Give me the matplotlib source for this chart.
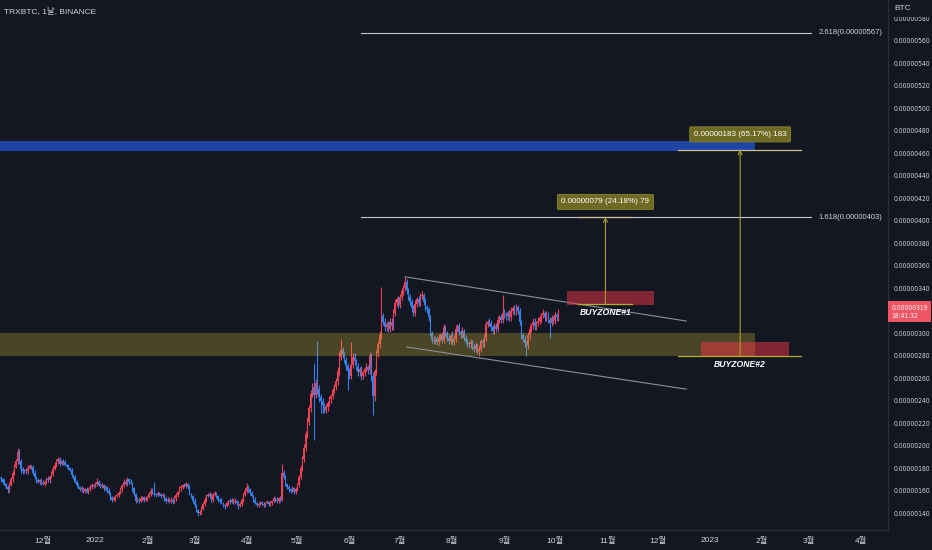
import datetime as dt
import matplotlib
matplotlib.use('Agg')
import matplotlib.pyplot as plt
import matplotlib.dates as mdates
import matplotlib.transforms as mtrans
from matplotlib import font_manager
from matplotlib.textpath import TextPath

plt.rcParams['font.family'] = ['Liberation Sans', 'Noto Sans CJK KR', 'DejaVu Sans']

# daily TRXBTC candles, prices in satoshi (1e-8 BTC), first day 2021-11-06
start = dt.date(2021, 11, 6)
first_open = 171
closes = [
    170, 168, 166, 163, 161, 165, 170, 176, 181, 186,
    194, 186, 179, 177, 178, 177, 180, 182, 181, 176,
    172, 169, 168, 169, 167, 166, 168, 170, 169, 172,
    175, 179, 183, 186, 188, 184, 186, 185, 183, 182,
    180, 178, 174, 172, 168, 165, 163, 161, 162, 160,
    161, 159, 161, 163, 165, 164, 166, 168, 165, 164,
    165, 162, 163, 160, 158, 154, 152, 153, 155, 156,
    158, 161, 165, 168, 166, 170, 168, 167, 162, 157,
    151, 152, 151, 153, 154, 152, 153, 154, 157, 160,
    158, 157, 156, 158, 157, 155, 156, 153, 151, 152,
    151, 152, 150, 153, 156, 159, 162, 163, 165, 164,
    166, 163, 157, 155, 151, 147, 143, 140, 141, 144,
    148, 152, 156, 155, 157, 152, 156, 158, 155, 152,
    151, 149, 147, 146, 149, 151, 150, 152, 150, 151,
    149, 146, 148, 152, 156, 160, 163, 161, 158, 155,
    152, 149, 147, 148, 150, 148, 147, 149, 150, 148,
    149, 151, 153, 152, 151, 153, 152, 176, 172, 166,
    163, 161, 160, 162, 159, 161, 165, 172, 180, 188,
    198, 210, 221, 233, 246, 252, 245, 256, 250, 243,
    240, 236, 232, 234, 238, 241, 244, 249, 252, 257,
    266, 279, 285, 281, 276, 271, 266, 262, 272, 279,
    275, 270, 265, 268, 262, 265, 268, 270, 267, 280,
    262, 244, 266, 282, 290, 298, 315, 310, 305, 308,
    304, 310, 306, 318, 327, 330, 325, 332, 337, 340,
    345, 338, 332, 328, 322, 318, 326, 330, 327, 333,
    334, 328, 323, 321, 314, 300, 294, 293, 295, 292,
    296, 298, 294, 305, 300, 296, 293, 297, 292, 295,
    304, 306, 301, 299, 302, 296, 293, 291, 290, 292,
    288, 286, 289, 284, 286, 293, 291, 296, 308, 310,
    309, 305, 302, 306, 304, 312, 314, 312, 318, 316,
    315, 318, 314, 320, 322, 319, 323, 320, 310, 298,
    295, 291, 289, 298, 304, 307, 310, 306, 309, 311,
    313, 316, 318, 314, 317, 312, 309, 313, 311, 316, 314, 319,
]
up_wick = [
    2, 1, 2, 1, 2, 3, 2, 2, 3, 2,
    4, 3, 2, 2, 1, 2, 3, 2, 1, 2,
    2, 1, 2, 1, 2, 2, 1, 2, 3, 2,
    2, 3, 2, 2, 2, 2, 1, 2, 2, 1,
    2, 1, 2, 1, 2, 1, 2, 1, 2, 1,
    1, 2, 1, 2, 2, 1, 2, 3, 1, 2,
    2, 1, 2, 1, 2, 1, 1, 2, 1, 2,
    2, 2, 1, 2, 2, 2, 1, 2, 1, 1,
    1, 2, 1, 2, 1, 1, 2, 1, 2, 2,
    2, 10, 1, 2, 1, 1, 2, 1, 1, 2,
    1, 2, 1, 2, 2, 1, 2, 2, 1, 2,
    2, 1, 2, 1, 1, 2, 1, 1, 2, 2,
    2, 2, 1, 2, 2, 1, 2, 2, 1, 1,
    1, 2, 1, 1, 2, 1, 2, 1, 1, 2,
    1, 2, 2, 1, 2, 2, 4, 2, 1, 2,
    1, 2, 1, 2, 1, 1, 2, 1, 2, 1,
    2, 1, 2, 1, 2, 1, 2, 8, 2, 2,
    1, 2, 1, 2, 1, 2, 2, 2, 3, 3,
    3, 3, 4, 3, 3, 4, 21, 3, 37, 4,
    3, 2, 2, 3, 2, 3, 2, 3, 3, 3,
    4, 4, 10, 3, 2, 3, 2, 3, 20, 3,
    3, 2, 3, 2, 3, 2, 2, 3, 2, 3,
    2, 3, 2, 3, 3, 4, 26, 3, 3, 2,
    3, 3, 3, 3, 3, 2, 3, 3, 3, 3,
    5, 3, 2, 3, 2, 3, 3, 2, 3, 3,
    3, 2, 3, 2, 2, 2, 2, 3, 2, 2,
    3, 2, 3, 3, 2, 2, 3, 2, 5, 3,
    3, 2, 3, 2, 3, 2, 2, 2, 2, 3,
    2, 3, 2, 2, 3, 2, 3, 3, 3, 2,
    3, 3, 2, 3, 3, 3, 2, 3, 16, 3,
    3, 2, 3, 3, 2, 3, 3, 2, 2, 2,
    2, 3, 2, 3, 3, 2, 3, 3, 2, 3,
    3, 2, 3, 2, 3, 2, 2, 3, 2, 3, 2, 2,
]
dn_wick = [
    2, 2, 1, 2, 3, 2, 1, 2, 2, 1,
    2, 2, 3, 2, 1, 2, 2, 1, 2, 2,
    2, 2, 1, 2, 2, 1, 2, 2, 1, 2,
    1, 2, 1, 2, 2, 2, 1, 2, 1, 2,
    2, 1, 2, 2, 1, 2, 2, 1, 2, 2,
    2, 1, 2, 1, 2, 2, 1, 2, 1, 2,
    2, 2, 1, 2, 2, 2, 2, 1, 2, 1,
    2, 1, 2, 2, 1, 2, 2, 1, 2, 2,
    2, 1, 2, 1, 2, 2, 1, 2, 1, 2,
    1, 2, 2, 1, 2, 2, 1, 2, 2, 1,
    2, 2, 2, 1, 2, 2, 1, 2, 2, 1,
    2, 2, 1, 2, 2, 2, 2, 3, 2, 2,
    1, 2, 2, 1, 2, 2, 2, 1, 2, 2,
    2, 1, 2, 2, 1, 2, 2, 1, 2, 2,
    2, 2, 1, 2, 2, 1, 2, 2, 2, 1,
    2, 1, 2, 2, 1, 2, 2, 2, 1, 2,
    2, 2, 1, 2, 2, 2, 2, 1, 2, 2,
    2, 2, 2, 1, 2, 2, 1, 2, 2, 3,
    3, 3, 3, 3, 3, 3, 40, 3, 4, 4,
    11, 7, 3, 3, 3, 3, 3, 3, 2, 3,
    3, 3, 3, 3, 3, 4, 17, 3, 3, 3,
    3, 3, 3, 3, 4, 3, 3, 3, 3, 3,
    5, 17, 4, 3, 3, 3, 3, 3, 3, 3,
    3, 3, 3, 3, 3, 3, 3, 3, 3, 3,
    3, 3, 3, 3, 3, 3, 3, 3, 3, 3,
    3, 3, 3, 3, 3, 3, 3, 3, 3, 3,
    3, 3, 3, 3, 3, 3, 3, 3, 3, 3,
    3, 3, 3, 3, 3, 3, 3, 3, 3, 3,
    3, 3, 3, 3, 4, 3, 3, 3, 3, 3,
    3, 3, 3, 3, 3, 3, 3, 3, 3, 3,
    3, 3, 3, 3, 3, 3, 3, 3, 3, 3,
    3, 3, 9, 3, 3, 3, 3, 3, 3, 3,
    3, 3, 3, 3, 3, 3, 13, 3, 3, 3, 3, 3,
]

month_ticks = ['2021-12-01', '2022-01-01', '2022-02-01', '2022-03-01', '2022-04-01',
               '2022-05-01', '2022-06-01', '2022-07-01', '2022-08-01', '2022-09-01',
               '2022-10-01', '2022-11-01', '2022-12-01', '2023-01-01', '2023-02-01',
               '2023-03-01', '2023-04-01']
month_labels = ['12월', '2022', '2월', '3월', '4월', '5월', '6월', '7월', '8월', '9월',
                '10월', '11월', '12월', '2023', '2월', '3월', '4월']
price_ticks = list(range(140, 581, 20))
last_price = 319

# drawings on the chart (satoshi / dates)
blue_zone = (462, 471)
olive_zone = (280, 300)
zone_end = '2023-01-28'
fib_start, fib_end = '2022-06-08', '2023-03-02'
fib_levels = [(567, '2.618(0.00000567)'), (403, '1.618(0.00000403)')]
channel_top = [('2022-07-04', 350), ('2022-12-18', 310.7)]
channel_bot = [('2022-07-05', 287.6), ('2022-12-18', 250.2)]
buy1 = dict(box=('2022-10-08', '2022-11-29', 325, 337), base=('2022-10-15', '2022-11-16', 325.5),
            arrow='2022-10-31', target=403, label='0.00000079 (24.18%) 79', text='BUYZONE#1')
buy2 = dict(box=('2022-12-27', '2023-02-17', 280, 292), base=('2022-12-13', '2023-02-24', 279.5),
            arrow='2023-01-19', target=463, label='0.00000183 (65.17%) 183', text='BUYZONE#2')

BG = '#131722'
TXT = '#d1d4dc'
UP = '#ee4155'
DOWN = '#3580ea'
S = 1e-8


def narrow_font():
    # narrowest regular face available for the price scale, sized to ~36 px per label
    rank = {'ultra-condensed': 0, 'extra-condensed': 1, 'condensed': 2, 'semi-condensed': 3}
    best = None
    for f in font_manager.fontManager.ttflist:
        st = str(f.stretch).lower()
        r = rank.get(st, 2 if ('Narrow' in f.name or 'Condensed' in f.name) else None)
        if r is None or f.style != 'normal' or f.weight not in (400, 'normal', 'regular'):
            continue
        if best is None or r < best[0]:
            best = (r, f.fname)
    fp = font_manager.FontProperties(fname=best[1]) if best else \
        font_manager.FontProperties(family='Liberation Sans')
    w = TextPath((0, 0), '0.00000560', prop=fp, size=10).get_extents().width
    fp.set_size(min(6.5, 10 * (36 * 0.72) / w))
    return fp


def d2n(s):
    return mdates.date2num(dt.date.fromisoformat(s))


def plot_chart():
    scale_fp = narrow_font()
    fig = plt.figure(figsize=(9.32, 5.5), dpi=100, facecolor=BG)
    ax = fig.add_axes([0, 20 / 550, 888 / 932, 530 / 550], facecolor=BG)

    xs = [mdates.date2num(start + dt.timedelta(days=i)) for i in range(len(closes))]
    opens = [first_open] + closes[:-1]
    for x, o, c, u, d in zip(xs, opens, closes, up_wick, dn_wick):
        col = UP if c >= o else DOWN
        lo_b, hi_b = min(o, c), max(o, c)
        ax.vlines(x, (lo_b - d) * S, (hi_b + u) * S, color=col, lw=0.8, zorder=2)
        ax.bar(x, max(hi_b - lo_b, 0.8) * S, bottom=lo_b * S, width=0.8,
               color=col, lw=0, zorder=2)

    x0 = mdates.date2num(start) - 0.53
    ze = d2n(zone_end)
    ax.fill_between([x0, ze], blue_zone[0] * S, blue_zone[1] * S, color='#2962ff',
                    alpha=0.6, lw=0, zorder=3)
    ax.fill_between([x0, ze], olive_zone[0] * S, olive_zone[1] * S, color='#c9b030',
                    alpha=0.3, lw=0, zorder=3)

    for lvl, txt in fib_levels:
        ax.plot([d2n(fib_start), d2n(fib_end)], [lvl * S, lvl * S], color='#c4c6cc', lw=0.8, zorder=4)
        ax.text(d2n(fib_end) + 4.5, lvl * S, txt, color=TXT, fontsize=5.5, va='center', zorder=5)

    for line in (channel_top, channel_bot):
        ax.plot([d2n(p[0]) for p in line], [p[1] * S for p in line], color='#8c8f99', lw=0.8, zorder=4)

    for bz in (buy1, buy2):
        b0, b1, ylo, yhi = bz['box']
        ax.fill_between([d2n(b0), d2n(b1)], ylo * S, yhi * S, color='#f23645', alpha=0.5, lw=0, zorder=4)
        l0, l1, ly = bz['base']
        ax.plot([d2n(l0), d2n(l1)], [ly * S, ly * S], color='#b5ac2c', lw=0.9, zorder=5)
        ax.plot([d2n(l0), d2n(l1)], [bz['target'] * S, bz['target'] * S], color='#cfc18a', lw=0.9, zorder=5)
        ax.annotate('', xy=(d2n(bz['arrow']), bz['target'] * S), xytext=(d2n(bz['arrow']), ly * S),
                    arrowprops=dict(arrowstyle='->', color='#a59f2c', lw=0.8, shrinkA=0, shrinkB=0,
                                    mutation_scale=7), zorder=5)
        ax.annotate(bz['label'], xy=(d2n(bz['arrow']), bz['target'] * S), xytext=(0, 11),
                    textcoords='offset points', ha='center', va='center', fontsize=5.8, color='white',
                    bbox=dict(boxstyle='round,pad=0.5,rounding_size=0.15', fc='#6e6a24', ec='#8a8530', lw=0.6),
                    zorder=6)
        ax.annotate(bz['text'], xy=(d2n(l0) / 2 + d2n(l1) / 2, ly * S), xytext=(0, -6),
                    textcoords='offset points', ha='center', va='center', fontsize=6.2, color='white',
                    fontstyle='italic', fontweight='bold', zorder=6)

    ax.set_xlim(x0, d2n('2023-04-16') + 0.8)
    ax.set_ylim(125 * S, 596 * S)

    ax.set_xticks([d2n(m) for m in month_ticks])
    ax.set_xticklabels(month_labels, fontsize=6, color=TXT)
    ax.tick_params(axis='x', length=0, pad=5)
    ax.yaxis.tick_right()
    ax.set_yticks([p * S for p in price_ticks])
    ax.set_yticklabels(['%.8f' % (p * S) for p in price_ticks], color=TXT, fontproperties=scale_fp)
    ax.tick_params(axis='y', length=0, pad=4)
    for sp in ('top', 'left'):
        ax.spines[sp].set_visible(False)
    ax.spines['right'].set_color('#2a2e39')
    ax.spines['bottom'].set_color('#2a2e39')
    ax.spines['right'].set_linewidth(1.0)
    ax.spines['bottom'].set_linewidth(1.0)

    # last price tag on the price scale
    tr = mtrans.blended_transform_factory(ax.transAxes, ax.transData)
    ax.text(1.004, last_price * S, '0.00000319\n18:41:32', transform=tr, fontproperties=scale_fp,
            color='white', va='center', ha='left', linespacing=1.35,
            clip_on=False, zorder=10, bbox=dict(boxstyle='square,pad=0.5', fc='#f05565', ec='none'))

    # header of the price scale covers the top tick
    fig.patches.append(plt.Rectangle((889 / 932, 1 - 17 / 550), 43 / 932, 17 / 550,
                                     transform=fig.transFigure, fc=BG, ec='none', zorder=20))
    fig.text(4 / 932, 1 - 12 / 550, 'TRXBTC, 1날, BINANCE', fontsize=6, color=TXT, va='center')
    fig.text(894 / 932, 1 - 8 / 550, 'BTC', fontsize=6, color=TXT, va='center', zorder=21)

    fig.savefig('out.png', dpi=100, facecolor=BG)


if __name__ == '__main__':
    plot_chart()
